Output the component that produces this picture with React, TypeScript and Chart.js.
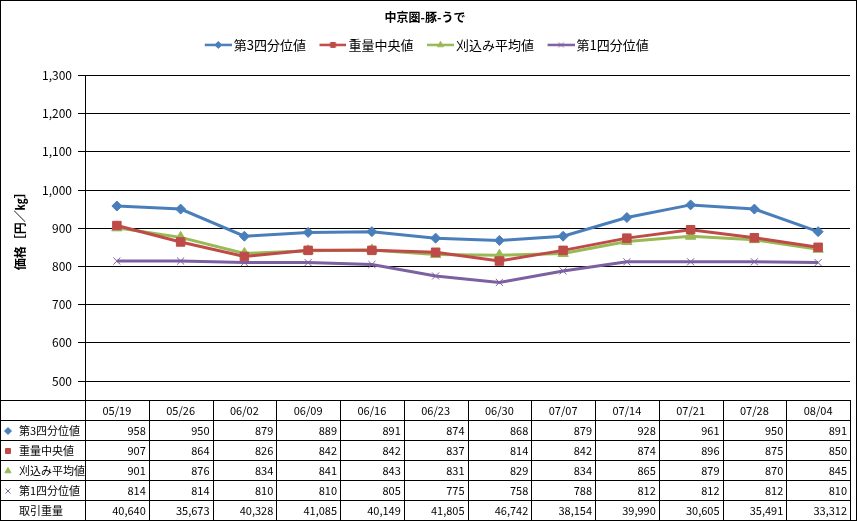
import React, { useEffect, useRef } from "react";
import { Chart, registerables } from "chart.js";
import { drawPoint } from "chart.js/helpers";

Chart.register(...registerables);

const weeks = ["05/19", "05/26", "06/02", "06/09", "06/16", "06/23", "06/30", "07/07", "07/14", "07/21", "07/28", "08/04"];
const q3Values = [958, 950, 879, 889, 891, 874, 868, 879, 928, 961, 950, 891];
const medianValues = [907, 864, 826, 842, 842, 837, 814, 842, 874, 896, 875, 850];
const trimmedValues = [901, 876, 834, 841, 843, 831, 829, 834, 865, 879, 870, 845];
const q1Values = [814, 814, 810, 810, 805, 775, 758, 788, 812, 812, 812, 810];
const volumeValues = [40640, 35673, 40328, 41085, 40149, 41805, 46742, 38154, 39990, 30605, 35491, 33312];
const volumeLabel = "取引重量";

const FONT = "'Noto Sans CJK JP', 'Noto Sans', sans-serif";

const series = [
  { label: "第3四分位値", data: q3Values, color: "#4A7EBB", style: "rectRot", radius: 5 },
  { label: "重量中央値", data: medianValues, color: "#BE4B48", style: "rect", radius: 6 },
  { label: "刈込み平均値", data: trimmedValues, color: "#98B954", style: "triangle", radius: 6 },
  { label: "第1四分位値", data: q1Values, color: "#7D60A0", style: "crossRot", radius: 5 },
];

// line + marker sample; the left 8px stay blank so the sample sits close to its text
const legendIcon = (color: string, style: string) => {
  const c = document.createElement("canvas");
  c.width = 35;
  c.height = 10;
  const g = c.getContext("2d")!;
  g.strokeStyle = color;
  g.lineWidth = 2.5;
  g.beginPath();
  g.moveTo(8, 5);
  g.lineTo(35, 5);
  g.stroke();
  g.fillStyle = color;
  g.lineWidth = 1;
  drawPoint(g, { pointStyle: style as any, radius: 3.5, borderWidth: 1, rotation: 0 }, 21.5, 5);
  return c;
};

// leave a gap between the legend and the plot, as in the original
const legendGap = {
  id: "legendGap",
  beforeInit(chart: any) {
    const fit = chart.legend.fit;
    chart.legend.fit = function () {
      fit.bind(this)();
      this.height += 14;
    };
  },
};

const tablePlugin = {
  id: "dataTable",
  afterDraw(chart: Chart) {
    const ctx = chart.ctx;
    const x = chart.scales.x;
    const area = chart.chartArea;
    const colW = (x.right - x.left) / weeks.length;
    const top = 400;
    const rowH = 20;
    ctx.save();
    ctx.strokeStyle = "#000";
    ctx.lineWidth = 1;
    // y axis line continues down to the table
    ctx.beginPath();
    ctx.moveTo(Math.round(area.left) + 0.5, area.bottom);
    ctx.lineTo(Math.round(area.left) + 0.5, top);
    ctx.stroke();
    ctx.beginPath();
    for (let r = 0; r <= 6; r++) {
      const y = top + r * rowH + 0.5;
      ctx.moveTo(0, y);
      ctx.lineTo(x.right, y);
    }
    ctx.moveTo(0.5, top);
    ctx.lineTo(0.5, top + rowH * 6);
    for (let i = 0; i <= weeks.length; i++) {
      const xx = Math.round(x.left + i * colW) + 0.5;
      ctx.moveTo(xx, top);
      ctx.lineTo(xx, top + rowH * 6);
    }
    ctx.stroke();

    ctx.font = `11px ${FONT}`;
    ctx.fillStyle = "#000";
    ctx.textBaseline = "middle";
    ctx.textAlign = "center";
    weeks.forEach((w, i) => {
      ctx.fillText(w, x.left + (i + 0.5) * colW, top + rowH / 2 + 1);
    });
    const rows = [...series.map((s) => ({ label: s.label, data: s.data, s })), { label: volumeLabel, data: volumeValues, s: null as any }];
    rows.forEach((row, r) => {
      const cy = top + rowH * (r + 1) + rowH / 2 + 1;
      if (row.s) {
        ctx.fillStyle = row.s.color;
        ctx.strokeStyle = row.s.color;
        drawPoint(ctx, { pointStyle: row.s.style, radius: 3.5, borderWidth: 1, rotation: 0 }, 8, cy);
      }
      ctx.fillStyle = "#000";
      ctx.textAlign = "left";
      ctx.fillText(row.label, 19, cy);
      ctx.textAlign = "right";
      row.data.forEach((v: number, i: number) => {
        ctx.fillText(v.toLocaleString("en-US"), x.left + (i + 1) * colW - 3, cy);
      });
    });
    // outer frame
    ctx.strokeStyle = "#000";
    ctx.strokeRect(0.5, 0.5, chart.width - 1, chart.height - 1);
    ctx.restore();
  },
};

export default function App() {
  const canvasRef = useRef<HTMLCanvasElement>(null);

  useEffect(() => {
    if (!canvasRef.current) return;
    const chart = new Chart(canvasRef.current, {
      type: "line",
      data: {
        labels: weeks,
        datasets: series.map((s) => ({
          label: s.label,
          data: s.data,
          borderColor: s.color,
          backgroundColor: s.color,
          borderWidth: 3,
          pointStyle: s.style as any,
          pointRadius: s.radius,
          pointBorderWidth: 1,
          tension: 0,
        })),
      },
      options: {
        responsive: false,
        animation: false,
        devicePixelRatio: 1,
        layout: { padding: { left: 0, right: 7, top: 0, bottom: 140 } },
        plugins: {
          title: {
            display: true,
            text: "中京圏-豚-うで",
            color: "#000",
            font: { family: FONT, size: 12, weight: "bold" },
            padding: { top: 10, bottom: 4 },
          },
          legend: {
            labels: {
              color: "#000",
              font: { family: FONT, size: 13 },
              usePointStyle: true,
              pointStyleWidth: 26,
              padding: 10,
              generateLabels: () =>
                series.map((s, i) => ({
                  text: s.label,
                  datasetIndex: i,
                  pointStyle: legendIcon(s.color, s.style) as any,
                  fillStyle: s.color,
                  strokeStyle: s.color,
                  lineWidth: 0,
                  hidden: false,
                })),
            },
          },
          tooltip: { enabled: false },
        },
        scales: {
          x: { display: false, offset: true },
          y: {
            min: 500,
            max: 1300,
            afterFit: (scale: any) => {
              scale.width = 85;
            },
            ticks: {
              stepSize: 100,
              color: "#000",
              font: { family: FONT, size: 12 },
              padding: 6,
              callback: (v: any) => Number(v).toLocaleString("en-US"),
            },
            grid: { color: "#000", lineWidth: 1, tickLength: 7 },
            border: { color: "#000" },
            title: {
              display: true,
              text: "価格［円／㎏］",
              color: "#000",
              font: { family: FONT, size: 12, weight: "bold" },
              padding: { top: 13, bottom: 0 },
            },
          },
        },
      },
      plugins: [legendGap, tablePlugin],
    });
    return () => chart.destroy();
  }, []);

  return (
    <div style={{ position: "absolute", left: 0, top: 0, width: 857, height: 521, background: "#fff" }}>
      <canvas ref={canvasRef} width={857} height={521} style={{ width: 857, height: 521 }} />
    </div>
  );
}
